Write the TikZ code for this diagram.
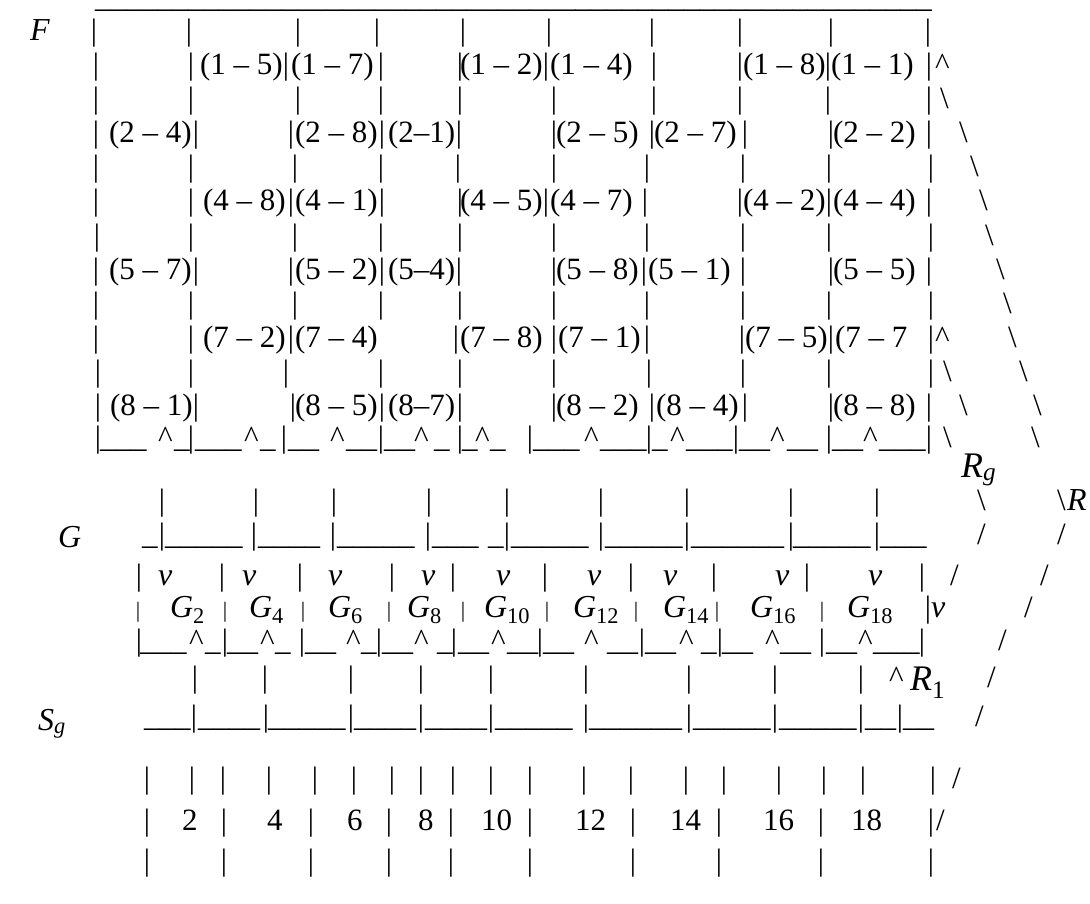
\documentclass[tikz,border=0pt]{standalone}
\usepackage{fontspec}
\setmainfont{Liberation Serif}
\newcounter{tn}
\tikzset{
 txt/.style={inner sep=0pt, outer sep=0pt, anchor=base west, font=\fontsize{31}{31}\selectfont},
 ustyle/.style={txt, text height=2pt, text depth=6pt},
 barc/.style={inner sep=0pt, outer sep=0pt, anchor=base, font=\fontsize{31}{31}\selectfont},
 sbar/.style={barc, font=\fontsize{22}{22}\selectfont},
 lbl/.style={txt, font=\fontsize{32}{32}\selectfont\itshape},
 biglbl/.style={txt, font=\fontsize{36}{36}\selectfont\itshape},
}
\newcommand\tx[3]{\stepcounter{tn}\node[txt] (t\arabic{tn}) at (#1,-#2) {#3};}
\newcommand\lb[3]{\stepcounter{tn}\node[lbl] (t\arabic{tn}) at (#1,-#2) {#3};}
\newcommand\blb[3]{\stepcounter{tn}\node[biglbl] (t\arabic{tn}) at (#1,-#2) {#3};}
\newcommand\bb[2]{\stepcounter{tn}\node[barc] (t\arabic{tn}) at (#1,-#2) {|};}
\newcommand\sbb[2]{\stepcounter{tn}\node[sbar] (t\arabic{tn}) at (#1,-#2) {|};}
\newcommand\bars[2]{\foreach \xx in {#2}{\bb{\xx}{#1}}}
\newcommand\sbars[2]{\foreach \xx in {#2}{\sbb{\xx}{#1}}}
\newcommand\uline[1]{\foreach \k in {1,...,#1}{\_}}
\newcommand\uu[3]{\stepcounter{tn}\node[ustyle] (t\arabic{tn}) at (#1,-#2) {\uline{#3}};}
\newcommand\ca[2]{\tx{#1}{#2}{\textasciicircum}}
\newcommand\bsl[2]{\tx{#1}{#2}{\textbackslash}}
\newcommand\sla[2]{\tx{#1}{#2}{/}}
\begin{document}
\begin{tikzpicture}[x=1pt,y=1pt]
\useasboundingbox (0,0) rectangle (1090,-903);
% overline
\uu{95}{7}{54}
% Row A
\lb{30}{40}{F}
\bars{40}{94,189,298,377,463,549,652,740,831,928}
% Row B
\bars{74}{96,191,286,381,460,546,654,740,828,929}
\tx{200}{74}{(1 – 5)}\tx{291}{74}{(1 – 7)}\tx{460}{74}{(1 – 2)}\tx{550}{74}{(1 – 4)}\tx{743}{74}{(1 – 8)}\tx{831}{74}{(1 – 1)}\ca{935}{74}
% Row C
\bars{108}{96,191,298,381,460,554,654,740,828,929}\bsl{940}{108}
% Row D
\bars{142}{96,196,291,382,459,554,652,745,831,929}
\tx{109}{142}{(2 – 4)}\tx{295}{142}{(2 – 8)}\tx{388}{142}{(2–1)}\tx{556}{142}{(2 – 5)}\tx{654}{142}{(2 – 7)}\tx{833}{142}{(2 – 2)}\bsl{959}{142}
% Row E
\bars{176}{96,191,295,381,458,554,647,743,829,931}\bsl{970}{176}
% Row F
\bars{210}{96,191,291,382,460,546,645,740,829,929}
\tx{203}{210}{(4 – 8)}\tx{295}{210}{(4 – 1)}\tx{460}{210}{(4 – 5)}\tx{550}{210}{(4 – 7)}\tx{743}{210}{(4 – 2)}\tx{833}{210}{(4 – 4)}\bsl{979}{210}
% Row G
\bars{245}{97,191,295,381,460,554,647,743,829,931}\bsl{985}{245}
% Row H
\bars{279}{96,196,291,382,459,554,644,743,831,929}
\tx{109}{279}{(5 – 7)}\tx{295}{279}{(5 – 2)}\tx{388}{279}{(5–4)}\tx{556}{279}{(5 – 8)}\tx{648}{279}{(5 – 1)}\tx{833}{279}{(5 – 5)}\bsl{996}{279}
% Row I
\bars{313}{96,191,295,381,460,554,647,743,829,931}\bsl{1003}{313}
% Row J
\bars{347}{96,191,291,456,554,647,742,831,931}
\tx{203}{347}{(7 – 2)}\tx{295}{347}{(7 – 4)}\tx{460}{347}{(7 – 8)}\tx{558}{347}{(7 – 1)}\tx{745}{347}{(7 – 5)}\tx{835}{347}{(7 – 7}\ca{935}{347}\bsl{1008}{347}
% Row K
\bars{381}{98,191,286,381,460,554,649,743,829,931}\bsl{943}{381}\bsl{1019}{381}
% Row L
\bars{415}{98,196,293,382,460,554,652,745,831,929}
\tx{110}{415}{(8 – 1)}\tx{295}{415}{(8 – 5)}\tx{388}{415}{(8–7)}\tx{556}{415}{(8 – 2)}\tx{656}{415}{(8 – 4)}\tx{833}{415}{(8 – 8)}\bsl{959}{415}\bsl{1033}{415}
% Row M
\bars{447}{98,191,284,381,460,530,649,736,829,929}
\uu{100}{447}{3}\ca{158}{447}\uu{174}{447}{1}
\uu{195}{447}{3}\ca{244}{447}\uu{260}{447}{1}
\uu{288}{447}{2}\ca{330}{447}\uu{346}{447}{2}
\uu{384}{447}{2}\ca{414}{447}\uu{434}{447}{1}
\uu{462}{447}{1}\ca{475}{447}\uu{490}{447}{1}
\uu{533}{447}{3}\ca{584}{447}\uu{600}{447}{3}
\uu{652}{447}{1}\ca{670}{447}\uu{686}{447}{3}
\uu{739}{447}{2}\ca{770}{447}\uu{787}{447}{2}
\uu{832}{447}{2}\ca{863}{447}\uu{879}{447}{3}
\bsl{943}{447}\blb{961}{477}{R\textsubscript{g}}\bsl{1031}{447}
% Row N
\bars{510}{162,256,334,429,507,601,687,791,877}\bsl{977}{510}\bsl{1057}{510}\lb{1067}{510}{R}
% Row O (G)
\lb{58}{547}{G}
\uu{142}{544}{1}
\bars{544}{162,254,333,428,507,601,687,791,877}
\uu{165}{544}{5}\uu{258}{544}{4}\uu{337}{544}{5}\uu{432}{544}{3}\uu{488}{544}{1}\uu{511}{544}{5}\uu{605}{544}{5}\uu{691}{544}{6}\uu{793}{544}{5}\uu{880}{544}{3}
\sla{977}{544}\sla{1057}{544}
% Row P (v)
\bars{585}{139,222,300,392,453,545,631,714,807,922}
\foreach \vx in {158,242,328,421,496,587,663,775,868}{\lb{\vx}{585}{v}}
\sla{950}{585}\sla{1040}{585}
% Row Q (G_n)
\sbars{617}{138,225,303,389,463,547,636,717,822}
\lb{170}{617}{G\textsubscript{\upshape 2}}\lb{249}{617}{G\textsubscript{\upshape 4}}\lb{328}{617}{G\textsubscript{\upshape 6}}\lb{407}{617}{G\textsubscript{\upshape 8}}\lb{484}{617}{G\textsubscript{\upshape 10}}\lb{573}{617}{G\textsubscript{\upshape 12}}\lb{663}{617}{G\textsubscript{\upshape 14}}\lb{750}{617}{G\textsubscript{\upshape 16}}\lb{847}{617}{G\textsubscript{\upshape 18}}
\bb{928}{617}\lb{931}{617}{v}\sla{1024}{617}
% Row R
\bars{650}{139,225,302,379,454,540,642,720,822,922}
\uu{140}{650}{3}\ca{189}{650}\uu{205}{650}{1}
\uu{227}{650}{2}\ca{260}{650}\uu{275}{650}{1}
\uu{305}{650}{2}\ca{346}{650}\uu{361}{650}{1}
\uu{382}{650}{2}\ca{414}{650}\uu{437}{650}{1}
\uu{458}{650}{2}\ca{491}{650}\uu{507}{650}{2}
\uu{543}{650}{2}\ca{584}{650}\uu{607}{650}{2}
\uu{645}{650}{2}\ca{679}{650}\uu{701}{650}{1}
\uu{722}{650}{2}\ca{765}{650}\uu{780}{650}{2}
\uu{826}{650}{2}\ca{858}{650}\uu{873}{650}{3}
\sla{998}{650}
% Row S
\bars{687}{195,265,351,421,491,586,689,775,861}\ca{889}{687}\blb{910}{690}{R\textsubscript{\upshape 1}}\sla{987}{687}
% Row T (S_g)
\lb{38}{730}{S\textsubscript{g}}
\uu{144}{726}{3}
\bars{726}{194,266,351,421,491,586,689,775,861,900}
\uu{198}{726}{4}\uu{268}{726}{5}\uu{354}{726}{4}\uu{425}{726}{4}\uu{495}{726}{5}\uu{589}{726}{6}\uu{693}{726}{5}\uu{779}{726}{5}\uu{865}{726}{2}\uu{903}{726}{2}
\sla{975}{726}
% Row U
\bars{788}{147,192,223,269,315,354,392,421,453,491,530,584,631,686,724,779,824,863,933}\sla{952}{788}
% Row V
\bars{830}{147,224,311,389,451,530,633,719,821,931}
\tx{182}{830}{2}\tx{267}{830}{4}\tx{347}{830}{6}\tx{418}{830}{8}\tx{481}{830}{10}\tx{575}{830}{12}\tx{670}{830}{14}\tx{763}{830}{16}\tx{851}{830}{18}\sla{936}{830}
% Row W
\bars{870}{147,224,311,389,451,530,633,719,821,931}
\end{tikzpicture}
\end{document}
